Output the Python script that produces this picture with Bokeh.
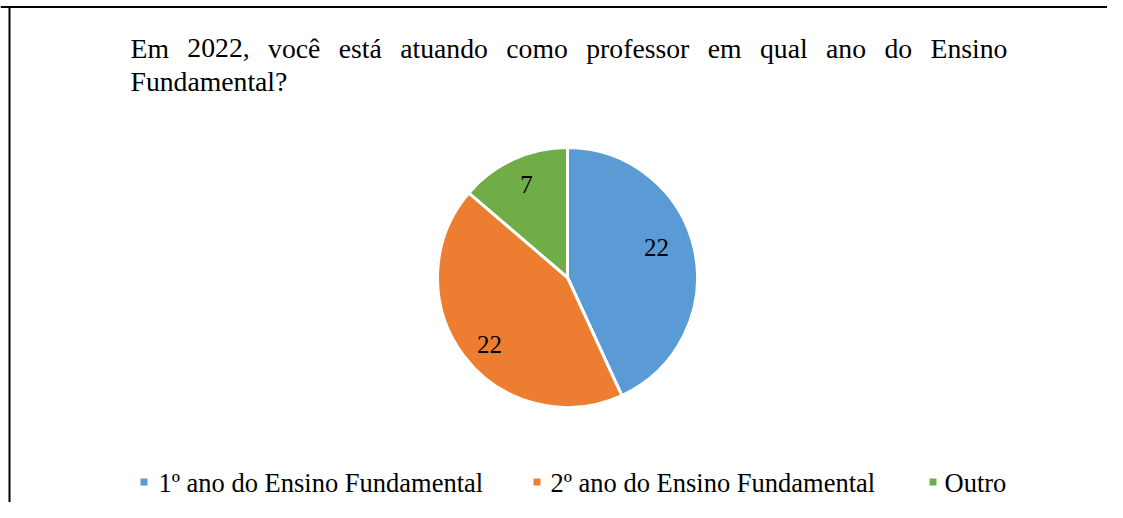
import math
from bokeh.plotting import figure
from bokeh.models import ColumnDataSource, Range1d
from bokeh.core.properties import value
from bokeh.embed import file_html
from bokeh.resources import INLINE

# ---- data ----
categories = ["1º ano do Ensino Fundamental", "2º ano do Ensino Fundamental", "Outro"]
values = [22, 22, 7]
colors = ["#5B9BD5", "#ED7D31", "#70AD47"]
title_line1 = "Em 2022, você está atuando como professor em qual ano do Ensino"
title_line2 = "Fundamental?"

# ---- layout (pixels) ----
W, H = 1107, 502
def fx(x): return x
def fy(y): return H - y

FONT = value("Liberation Serif")
TITLE_SIZE = 27.7
LEGEND_SIZE = 26.5
MID = 0.3375  # text-box middle above baseline, in em
cx, cy, R = fx(567), fy(277), 130
label_offsets = [(89, 30), (-78, -67), (-41, 93)]
legend_sq_x = [143.5, 536.5, 932.5]
legend_tx_x = [158, 550, 944]

# Times/Liberation Serif advance widths (per 1000 em) for justifying the title line
ADV = {' ': 250, ',': 250, '?': 444, 'E': 611, 'F': 556, 'a': 444, 'c': 444, 'd': 500,
       'e': 444, 'f': 333, 'i': 278, 'l': 278, 'm': 778, 'n': 500, 'o': 500, 'p': 500,
       'q': 500, 'r': 333, 's': 389, 't': 278, 'u': 500, 'v': 500, 'ê': 444, 'á': 444}
def wwidth(w):
    return sum(ADV.get(ch, 500) for ch in w) / 1000 * TITLE_SIZE

words = title_line1.split(" ")
left, right = 130, 1007
widths = [wwidth(w) for w in words]
gap = (right - left - sum(widths)) / (len(words) - 1)
title_word_x = []
xx = left
for w in widths:
    title_word_x.append(xx)
    xx += w + gap

p = figure(width=W, height=H, output_backend="svg", toolbar_location=None,
           x_range=Range1d(0, W), y_range=Range1d(0, H), min_border=0,
           outline_line_color=None, background_fill_color="white")
p.axis.visible = False
p.grid.visible = False

# frame border (top and left)
p.segment(x0=[0, fx(9)], y0=[fy(6.5), 0], x1=[W, fx(9)], y1=[fy(6.5), fy(6.5)],
          line_color="black", line_width=2)

# pie
total = sum(values)
starts, ends = [], []
acc = 0.0
for v in values:
    a0 = math.pi / 2 - 2 * math.pi * acc / total
    acc += v
    a1 = math.pi / 2 - 2 * math.pi * acc / total
    starts.append(a1)
    ends.append(a0)
src = ColumnDataSource(dict(x=[cx] * 3, y=[cy] * 3, start=starts, end=ends,
                            color=colors, cat=categories, val=values))
p.wedge(x="x", y="y", radius=R, start_angle="start", end_angle="end",
        fill_color="color", line_color="white", line_width=3, source=src)

# data labels
lsrc = ColumnDataSource(dict(
    x=[cx + dx for dx, dy in label_offsets],
    y=[cy + dy for dx, dy in label_offsets],
    t=[str(v) for v in values]))
p.text(x="x", y="y", text="t", source=lsrc, text_font=FONT,
       text_font_size="25px", text_align="center", text_baseline="middle",
       text_color="black")

# title (line 1 justified word by word); baselines at y=57 and y=90
tsrc = ColumnDataSource(dict(x=[fx(v) for v in title_word_x] + [fx(130)],
                             y=[fy(57 - MID * TITLE_SIZE)] * len(words) + [fy(90 - MID * TITLE_SIZE)],
                             t=words + [title_line2]))
p.text(x="x", y="y", text="t", source=tsrc, text_font=FONT,
       text_font_size=f"{TITLE_SIZE}px", text_align="left", text_baseline="middle",
       text_color="black")

# legend (baseline at y=491)
p.rect(x=[fx(v) for v in legend_sq_x], y=[fy(481.5)] * 3, width=7, height=7,
       fill_color=colors, line_color=None)
gsrc = ColumnDataSource(dict(x=[fx(v) for v in legend_tx_x],
                             y=[fy(491 - MID * LEGEND_SIZE)] * 3, t=categories))
p.text(x="x", y="y", text="t", source=gsrc, text_font=FONT,
       text_font_size=f"{LEGEND_SIZE}px", text_align="left", text_baseline="middle",
       text_color="black")

open("out.html", "w").write(file_html(p, INLINE))
